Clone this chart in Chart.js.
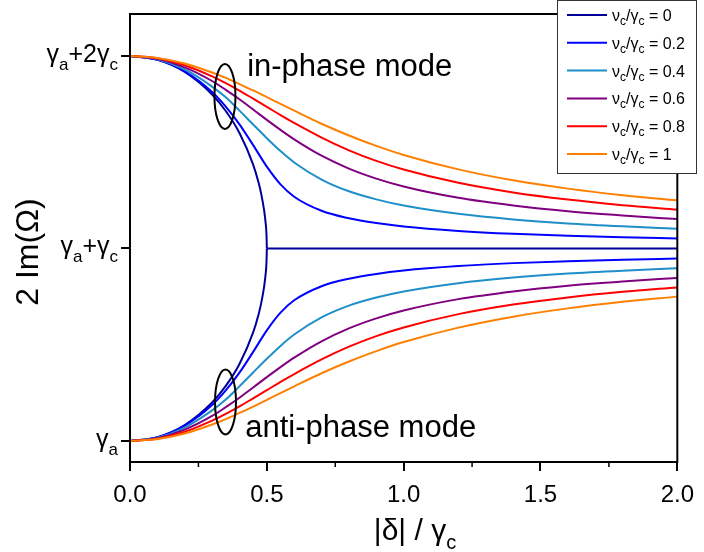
<!DOCTYPE html>
<html><head><meta charset="utf-8">
<script src="https://cdn.jsdelivr.net/npm/chart.js@4.4.1/dist/chart.umd.min.js"></script>
<style>html,body{margin:0;padding:0;background:#fff}canvas{display:block}</style>
</head><body>
<canvas id="c" width="704" height="552"></canvas>
<script>
const FONT = '"Liberation Sans", Arial, sans-serif';

// |delta|/gamma_c sample points
const deltas = [0,0.1,0.2,0.3,0.35,0.4,0.45,0.5,0.55,0.6,0.7,0.8,0.9,1.0,1.2,1.4,1.6,1.8,2.0];
const epDeltas = [0,0.1,0.2,0.3,0.35,0.4,0.45,0.47,0.48,0.49,0.495,0.499,0.5];
const plateauDeltas = [0.5,2.0];

// 2Im(Omega) in units of gamma_c above gamma_a
const nu0Upper = [2,1.980,1.917,1.800,1.714,1.600,1.436,1.341,1.280,1.199,1.141,1.063,1.000];
const nu0Lower = [0,0.020,0.083,0.200,0.286,0.400,0.564,0.659,0.720,0.801,0.859,0.937,1.000];
const nu0Plateau = [1.0,1.0];
const nu02Upper = [2,1.981,1.920,1.813,1.737,1.645,1.537,1.425,1.333,1.269,1.196,1.157,1.132,1.114,1.091,1.076,1.066,1.058,1.052];
const nu02Lower = [0,0.019,0.080,0.187,0.263,0.355,0.463,0.575,0.667,0.731,0.804,0.843,0.868,0.886,0.909,0.924,0.934,0.942,0.948];
const nu04Upper = [2,1.983,1.930,1.841,1.785,1.716,1.644,1.573,1.506,1.447,1.358,1.297,1.255,1.223,1.180,1.151,1.130,1.115,1.103];
const nu04Lower = [0,0.017,0.070,0.159,0.215,0.284,0.356,0.427,0.494,0.553,0.642,0.703,0.745,0.777,0.820,0.849,0.870,0.885,0.897];
const nu06Upper = [2,1.985,1.941,1.870,1.824,1.775,1.722,1.668,1.616,1.567,1.482,1.415,1.363,1.322,1.263,1.223,1.193,1.171,1.153];
const nu06Lower = [0,0.015,0.059,0.130,0.176,0.225,0.278,0.332,0.384,0.433,0.518,0.585,0.637,0.678,0.737,0.777,0.807,0.829,0.847];
const nu08Upper = [2,1.988,1.952,1.894,1.859,1.820,1.778,1.736,1.693,1.652,1.576,1.510,1.455,1.410,1.341,1.291,1.254,1.225,1.202];
const nu08Lower = [0,0.012,0.048,0.106,0.141,0.180,0.222,0.264,0.307,0.348,0.424,0.490,0.545,0.590,0.659,0.709,0.746,0.775,0.798];
const nu1Upper = [2,1.990,1.961,1.914,1.886,1.854,1.821,1.786,1.751,1.716,1.648,1.587,1.533,1.486,1.411,1.354,1.311,1.277,1.250];
const nu1Lower = [0,0.010,0.039,0.086,0.114,0.146,0.179,0.214,0.249,0.284,0.352,0.413,0.467,0.514,0.589,0.646,0.689,0.723,0.750];

const nuLabels = ['0','0.2','0.4','0.6','0.8','1'];
const colors = ['#000099','#0000ff','#1f8fc9','#800080','#ff0000','#ff8000'];

const xTicks = [0,0.5,1.0,1.5,2.0];
const xMinorTicks = [0.25,0.75,1.25,1.75];
const yTicks = [0,1,2];
const yTickLabels = [
  [['γ',0],['a',1]],
  [['γ',0],['a',1],['+γ',0],['c',1]],
  [['γ',0],['a',1],['+2γ',0],['c',1]]
];
const rings = [[0.347,1.79],[0.349,0.203]];
const notes = [['in-phase mode',0.428,1.896],['anti-phase mode',0.421,0.02]];

function pts(xs, ys){ return xs.map((x,i)=>({x:x, y:ys[i]})); }

const groups = [
  [[epDeltas,nu0Upper],[epDeltas,nu0Lower],[plateauDeltas,nu0Plateau]],
  [[deltas,nu02Upper],[deltas,nu02Lower]],
  [[deltas,nu04Upper],[deltas,nu04Lower]],
  [[deltas,nu06Upper],[deltas,nu06Lower]],
  [[deltas,nu08Upper],[deltas,nu08Lower]],
  [[deltas,nu1Upper],[deltas,nu1Lower]]
];
const datasets = [];
groups.forEach((g,k)=>{
  g.forEach(p=>{
    datasets.push({
      data: pts(p[0],p[1]),
      borderColor: colors[k], backgroundColor: colors[k],
      borderWidth: 2, pointRadius: 0, fill: false,
      cubicInterpolationMode: 'monotone',
      order: 10 - k
    });
  });
});

function rich(ctx, parts, x, y, size, subSize, subDy, align){
  let w = 0;
  parts.forEach(p=>{ ctx.font = (p[1]?subSize:size)+'px '+FONT; w += ctx.measureText(p[0]).width; });
  let cx = align==='right' ? x-w : (align==='center' ? x-w/2 : x);
  parts.forEach(p=>{
    ctx.font = (p[1]?subSize:size)+'px '+FONT;
    ctx.fillText(p[0], cx, p[1] ? y+subDy : y);
    cx += ctx.measureText(p[0]).width;
  });
}

const decor = {
  id: 'decor',
  afterDraw(chart){
    const ctx = chart.ctx, a = chart.chartArea;
    const xs = chart.scales.x, ys = chart.scales.y;
    ctx.save();
    ctx.fillStyle = '#000'; ctx.strokeStyle = '#000';
    ctx.textBaseline = 'alphabetic'; ctx.textAlign = 'left';
    // frame
    ctx.lineWidth = 2;
    ctx.strokeRect(a.left, a.top, a.right-a.left, a.bottom-a.top);
    // minor ticks
    ctx.lineWidth = 1.5;
    xMinorTicks.forEach(v=>{
      const px = xs.getPixelForValue(v);
      ctx.beginPath(); ctx.moveTo(px, a.bottom); ctx.lineTo(px, a.bottom+5); ctx.stroke();
    });
    // y tick labels
    yTicks.forEach((v,i)=>{
      rich(ctx, yTickLabels[i], 118, ys.getPixelForValue(v)+6, 25, 17, 8, 'right');
    });
    // axis titles
    rich(ctx, [['|δ| / γ',0],['c',1]], 415, 540, 30, 20, 9, 'center');
    ctx.save();
    ctx.translate(38, 252); ctx.rotate(-Math.PI/2);
    rich(ctx, [['2 Im(Ω)',0]], 0, 0, 32, 20, 0, 'center');
    ctx.restore();
    // ellipses
    ctx.lineWidth = 2;
    rings.forEach(r=>{
      ctx.beginPath();
      ctx.ellipse(xs.getPixelForValue(r[0]), ys.getPixelForValue(r[1]), 10.5, 32.5, 0, 0, Math.PI*2);
      ctx.stroke();
    });
    // annotations
    ctx.font = '31px '+FONT;
    notes.forEach(n=>{ ctx.fillText(n[0], xs.getPixelForValue(n[1]), ys.getPixelForValue(n[2])); });
    // legend
    ctx.fillStyle = '#fff';
    ctx.fillRect(557, 0, 140, 173);
    ctx.strokeStyle = '#333'; ctx.lineWidth = 1;
    ctx.strokeRect(557.5, 0.5, 139, 173);
    nuLabels.forEach((lab,i)=>{
      const y = 15 + i*27.8;
      ctx.strokeStyle = colors[i]; ctx.lineWidth = 2;
      ctx.beginPath(); ctx.moveTo(567, y); ctx.lineTo(607, y); ctx.stroke();
      ctx.fillStyle = '#000';
      rich(ctx, [['ν',0],['c',1],['/γ',0],['c',1],[' = '+lab,0]], 612, y+6, 16, 12, 4, 'left');
    });
    ctx.restore();
  }
};

new Chart(document.getElementById('c'), {
  type: 'line',
  data: { datasets: datasets },
  options: {
    responsive: false, animation: false, devicePixelRatio: 1,
    layout: { padding: { top: 14, right: 18, left: 0, bottom: 0 } },
    plugins: { legend: { display: false }, tooltip: { enabled: false } },
    scales: {
      x: {
        type: 'linear', min: 0, max: 2,
        afterBuildTicks: s => { s.ticks = xTicks.map(v=>({value:v})); },
        afterFit: s => { s.height = 90; },
        ticks: { autoSkip: false, maxRotation: 0, padding: 10, color: '#000',
          font: { size: 24, family: FONT }, callback: v => v.toFixed(1) },
        grid: { drawOnChartArea: false, drawTicks: true, tickLength: 9, color: '#000', lineWidth: 2 },
        border: { display: false }
      },
      y: {
        type: 'linear', min: -0.109, max: 2.218,
        afterBuildTicks: s => { s.ticks = yTicks.map(v=>({value:v})); },
        afterFit: s => { s.width = 130; },
        ticks: { autoSkip: false, color: '#000', callback: () => '' },
        grid: { drawOnChartArea: false, drawTicks: true, tickLength: 9, color: '#000', lineWidth: 2 },
        border: { display: false }
      }
    }
  },
  plugins: [decor]
});
</script></body></html>
